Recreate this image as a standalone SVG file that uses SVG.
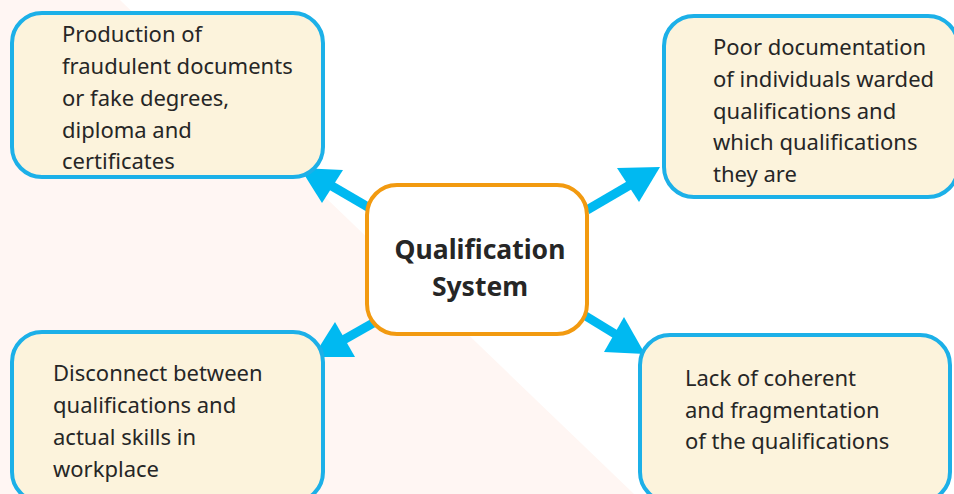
<svg xmlns="http://www.w3.org/2000/svg" width="954" height="494" viewBox="0 0 954 494">
<style>
.box{fill:#fcf3dc;stroke:#1cb0e8;stroke-width:4}
.center{fill:#ffffff;stroke:#f29a10;stroke-width:4}
.t{font-family:"Noto Sans","Open Sans",sans-serif;font-size:22px;fill:#262626}
.c{font-family:"Noto Sans","Open Sans",sans-serif;font-size:26.5px;font-weight:bold;fill:#262626;text-anchor:middle}
.ln{stroke:#00b9f1;stroke-width:9;fill:none}
.hd{fill:#00b9f1}
</style>
<rect width="954" height="494" fill="#ffffff"/>
<polygon points="0,0 120,0 634,494 0,494" fill="#fff6f3"/>
<g id="connectors">
<line class="ln" x1="373" y1="210" x2="325" y2="182"/>
<polygon class="hd" points="300,168 343,170 322,203"/>
<line class="ln" x1="587" y1="210" x2="635" y2="182"/>
<polygon class="hd" points="660,167 617,168 639,202"/>
<line class="ln" x1="375" y1="322" x2="338" y2="343"/>
<polygon class="hd" points="313,357 335,322 355,357"/>
<line class="ln" x1="584" y1="315" x2="620" y2="337"/>
<polygon class="hd" points="645,354 624,317 604,352"/>
</g>
<g id="node-center">
<rect class="center" x="367" y="185" width="220" height="149" rx="30"/>
<text class="c" x="480" y="259">Qualification</text>
<text class="c" x="480" y="296">System</text>
</g>
<g id="node-tl">
<rect class="box" x="12" y="13" width="311" height="164" rx="30"/>
<text class="t" x="62" y="42">Production of</text>
<text class="t" x="62" y="74">fraudulent documents</text>
<text class="t" x="62" y="106">or fake degrees,</text>
<text class="t" x="62" y="138">diploma and</text>
<text class="t" x="62" y="169">certificates</text>
</g>
<g id="node-tr">
<rect class="box" x="664" y="16" width="294" height="181" rx="30"/>
<text class="t" x="713" y="55">Poor documentation</text>
<text class="t" x="713" y="87">of individuals warded</text>
<text class="t" x="713" y="119">qualifications and</text>
<text class="t" x="713" y="150">which qualifications</text>
<text class="t" x="713" y="182">they are</text>
</g>
<g id="node-bl">
<rect class="box" x="12" y="332" width="311" height="170" rx="30"/>
<text class="t" x="53" y="381">Disconnect between</text>
<text class="t" x="53" y="413">qualifications and</text>
<text class="t" x="53" y="445">actual skills in</text>
<text class="t" x="53" y="477">workplace</text>
</g>
<g id="node-br">
<rect class="box" x="640" y="335" width="310" height="167" rx="30"/>
<text class="t" x="685" y="386">Lack of coherent</text>
<text class="t" x="685" y="418">and fragmentation</text>
<text class="t" x="685" y="449">of the qualifications</text>
</g>
</svg>
